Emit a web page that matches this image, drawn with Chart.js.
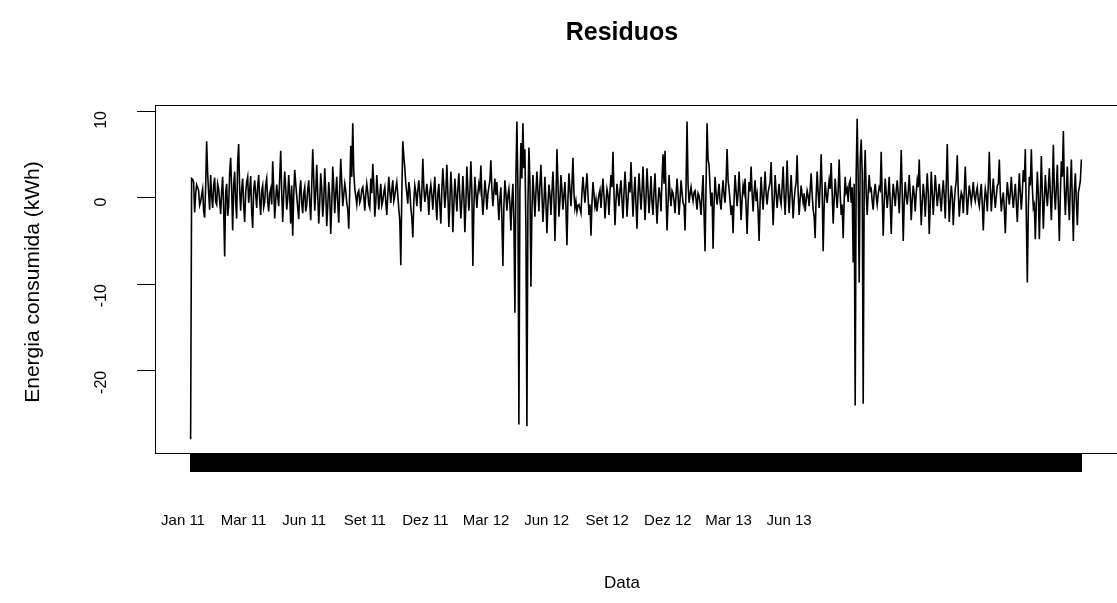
<!DOCTYPE html>
<html>
<head>
    <title>Residuos</title>
    <style>
        body, html {
            margin: 0;
            background-color: #ffffff;
        }
        #myChart {
            width: 1117px;
            height: 603px;
        }
    </style>
</head>
<body>
    <canvas id="myChart" width="1117" height="603"></canvas>
    <script src="https://cdn.jsdelivr.net/npm/chart.js"></script>
    <script>
        // daily residuals (kWh)
        const residuos = [
            -27.9, 2.2, 2.1, 1.8, -1.7, 0.4, 1.5, 1.2, 0.8, -0.9, -0.5, 0.3, 1.0, -1.5, -2.3, 1.2, 6.5, 2.8, 0.5, -1.4, 2.6, 0.2, -1.2, 1.4, 2.3, -0.5, -0.8, 1.6, 1.0, -0.4, -1.9, 0.8, 2.4, -1.3, -6.8, 0.6, 1.6, -2.1, -1.0, 2.8,
            4.6, 0.9, -3.8, 1.4, 3.0, -0.6, -2.4, 4.1, 6.2, 0.8, -1.5, 1.0, 2.2, -0.9, -2.8, 0.6, 1.8, 2.4, -0.6, 0.7, 2.5, -1.6, -3.5, 0.9, 2.0, 0.4, -1.2, 1.3, 2.6, -0.3, -2.0, 0.8, 1.4, -1.1, -0.5, 1.5, 2.2, -0.4, -1.6, 0.5,
            1.0, -0.8, 4.2, 1.1, -2.4, -0.3, 1.5, 0.2, -1.0, 2.3, 5.4, 0.6, -2.8, 0.4, 3.0, 1.2, -1.4, -0.2, 2.6, 0.3, -3.0, 1.4, -4.4, 0.2, 3.2, 1.6, 0.2, -1.2, -2.5, 0.8, 2.0, -0.7, -1.8, 0.5, 1.2, -1.6, -0.8, 0.9, 2.0, -0.6,
            -2.6, 1.4, 5.6, 2.2, -1.5, 0.6, 3.8, 0.4, -3.0, -0.5, 2.8, 1.0, -2.2, -0.4, 3.4, 0.7, -3.3, -1.0, 1.8, 0.2, -4.2, -0.8, 3.6, 1.3, -1.8, 0.5, 2.4, -0.6, -2.9, 1.1, 4.5, 1.8, -1.0, 0.3, 1.6, 0.8, -0.6, -1.4, -3.6, 0.9,
            6.0, 2.4, 8.6, 3.0, 1.0, 0.2, -0.8, 0.5, 0.8, -0.6, -0.2, 0.9, 1.2, 0.1, -1.5, 0.4, 1.6, 0.6, -0.8, -1.2, 2.2, 0.5, 3.9, 1.6, -2.2, -0.6, 2.6, 0.7, -1.4, 0.2, 1.6, -0.9, -0.4, 0.6, 1.2, -0.5, -2.0, 0.3, 2.4, 0.8,
            -0.6, 0.9, 2.0, -0.4, 0.2, 1.1, 1.8, 0.3, -1.3, -2.6, -7.8, 0.4, 6.5, 4.8, 3.4, 1.6, 0.5, -0.7, 1.8, 0.9, -1.2, -2.3, -4.6, -0.4, 1.4, 0.6, -1.0, 0.8, 2.0, 0.5, -1.6, 0.7, 4.5, 1.2, -0.5, 0.4, 1.6, 0.2, -2.0, 0.6,
            1.5, 0.3, -1.4, 0.8, 2.4, -0.5, -2.6, 0.4, 1.6, -0.8, -3.0, 0.9, 3.4, 1.2, -1.2, 0.5, 3.8, 0.6, -3.4, -0.6, 3.0, 0.8, -4.0, -0.9, 2.2, 0.4, -1.6, 0.9, 2.8, 0.1, -2.4, -0.4, 2.5, 0.2, -4.0, -0.8, 3.6, 1.0, -1.5, 0.6,
            4.2, 0.8, -7.9, -1.2, 2.4, 0.6, -1.2, 0.5, 1.6, 0.9, 3.7, 0.2, -2.0, -0.3, 2.0, 0.7, -1.4, 0.4, 1.2, 2.0, 4.3, 1.0, -1.0, 0.6, 2.2, 0.3, 1.8, -0.4, -2.6, -0.2, 1.2, -2.4, -7.9, -1.0, 2.0, 0.5, -1.5, 0.2, 1.0, -0.8,
            -3.8, -0.4, 1.6, -2.8, -13.3, 2.4, 8.8, 1.2, -26.2, 0.8, 6.3, 2.2, 8.6, 3.4, 5.6, -3.6, -26.4, -1.0, 5.8, 2.0, -10.3, -1.6, 2.6, 0.4, -2.2, 0.6, 3.0, 0.8, -1.6, 1.4, 3.8, 0.5, -2.8, -0.6, 2.4, -0.5, -4.1, -0.9, 1.5, 0.4,
            -2.0, 0.6, 3.0, 0.2, -5.0, -0.6, 5.6, 1.8, -2.2, -0.4, 2.6, 0.9, -1.4, 0.3, 1.8, -1.2, -5.5, -0.2, 2.8, 1.0, -1.0, 1.4, 4.6, 0.6, -1.2, -0.4, -1.6, -0.9, -0.8, -1.3, -1.8, 0.6, 2.4, 0.8, -0.6, 1.2, 2.8, 0.4, -2.0, -0.8,
            -4.4, -0.6, 1.8, 0.4, -1.0, -0.2, -1.6, -0.5, 0.4, 0.9, -1.2, 0.6, 2.2, 0.2, -2.4, -0.6, 1.0, 0.3, -2.0, 0.7, 2.6, 1.2, 5.3, 0.6, -3.2, -0.4, 1.6, 0.4, -1.0, 0.9, 2.0, -0.3, -2.4, 0.5, 3.0, 0.9, -2.2, -0.2, 1.8, 0.6,
            4.1, 0.8, -2.2, 0.4, 2.4, -0.8, -3.6, 0.2, 2.8, 0.6, -1.4, 0.7, 3.6, 0.4, -2.6, 0.1, 3.4, 0.9, -1.8, 0.2, 2.5, -0.5, -2.0, 0.8, 2.8, -0.4, -3.0, -0.6, 1.2, 0.3, -1.6, 2.2, 5.0, 1.6, 5.4, 0.4, -3.8, -0.8, 2.6, 0.4,
            -1.0, 0.8, 0.5, -0.4, -1.8, 0.3, 2.2, 0.4, -2.0, -0.3, 2.0, 0.6, -0.6, -0.9, -3.8, 1.2, 8.8, 1.6, -0.6, 0.4, 1.2, 0.3, -0.4, 0.6, 0.8, -0.2, -1.4, 0.5, 0.2, -0.6, -2.0, 0.4, 2.6, -1.8, -6.2, 1.4, 8.6, 4.4, 3.8, 1.2,
            -1.0, 0.6, -5.9, -0.8, 2.4, 0.5, -0.8, 0.4, 1.6, -0.5, -1.4, 0.6, 2.0, 0.3, -0.6, 1.8, 5.6, 2.0, 1.0, -0.4, -2.0, -0.9, -4.1, -0.2, 2.6, 0.8, -1.0, 0.5, 3.0, 0.4, -2.6, -0.2, 1.4, 0.6, 2.2, -1.0, -4.2, -0.6, 1.8, 0.7,
            3.6, 0.5, -1.6, 0.6, 2.0, -0.4, 0.4, -1.6, -5.0, -0.6, 2.4, 0.2, -1.4, 0.8, 3.0, 0.4, -0.8, 0.6, 1.2, 1.8, 4.1, 0.2, -3.2, -0.4, 2.6, 0.6, -1.2, 0.4, 1.6, -0.1, -0.8, 1.2, 3.6, 0.3, -2.0, 0.9, 4.3, 0.6, -1.8, 0.4,
            2.6, 0.2, -2.4, -0.3, 1.0, 1.8, 4.9, 0.6, -2.0, -0.2, 1.4, 0.3, -0.6, 0.5, -1.6, -0.3, 0.8, 0.2, -1.0, 0.9, 2.8, 0.4, -1.4, -2.2, -4.7, 0.2, 3.0, 0.6, -1.2, 1.4, 5.0, 0.8, -6.2, -1.0, 1.8, 0.4, -0.6, 0.8, 2.0, 1.0,
            4.0, 0.6, -3.0, -0.2, 2.2, 0.4, -1.2, 0.8, 4.4, 0.5, -2.0, -0.8, -4.7, -0.4, 2.4, 0.6, 1.0, -0.5, 1.6, 2.0, -0.6, 1.2, -7.5, 1.6, -24.0, 2.8, 9.1, 1.8, -9.8, 4.2, 6.7, 3.0, -23.8, 1.5, 5.5, 0.4, -2.0, 0.6, 2.6, 0.8,
            1.0, -0.4, -1.4, 0.6, 1.6, 0.2, -0.8, 0.4, 1.2, 0.9, 5.3, 0.2, -4.4, -0.6, 2.2, 0.5, -1.2, 0.4, 2.4, -0.6, -4.2, -0.4, 1.6, 0.3, -1.0, 0.8, 2.0, 0.4, -1.8, 1.2, 5.5, 0.6, -5.0, -0.5, 1.8, 0.2, -0.8, 0.6, 2.6, 0.4,
            -2.6, -0.2, 1.4, 0.3, -1.6, 0.5, 2.0, 1.2, 4.4, 0.4, -3.2, -0.5, 1.6, 0.2, -2.2, 0.4, 2.8, 0.5, -4.2, -0.8, 3.0, 0.6, -2.0, 0.2, 2.6, 0.9, -1.0, 0.3, 1.6, -0.2, -1.6, 0.5, 2.0, 0.2, -2.4, 1.6, 6.2, 0.8, -2.8, -0.4,
            1.4, 0.2, -3.2, -0.6, 1.0, 2.0, 4.9, 0.6, -2.2, -0.4, 0.6, 0.2, -1.8, 0.8, 3.6, 0.4, -2.0, -0.2, 1.4, 0.5, -0.6, 0.4, 1.8, 0.2, -0.4, 0.6, 1.2, -0.3, -1.0, 0.4, 1.6, -0.8, -3.8, -0.6, 1.0, 0.2, -1.6, 1.4, 5.3, 1.2,
            -1.6, 0.4, 2.2, 0.3, -1.2, 0.2, 1.4, 1.6, 4.4, 0.6, -1.6, -0.3, 0.6, -1.2, -4.1, -0.5, 1.8, 0.4, -0.8, 0.6, 2.4, 0.2, -1.2, 0.3, 1.6, -0.6, -2.8, 0.2, 2.8, 0.5, -1.4, 0.6, 3.2, 1.8, 5.6, -2.4, -9.8, -1.2, 2.4, 1.4,
            5.6, 1.2, -1.2, -0.8, -4.8, -0.6, 3.0, 0.4, -4.8, 0.2, 4.8, 0.6, -3.6, -0.4, 2.6, 0.6, -1.0, 1.0, 3.4, 0.4, -2.6, 1.0, 6.1, 0.8, -1.4, 1.2, 3.8, -0.6, -5.0, 0.4, 4.2, 2.4, 7.7, 1.2, -2.0, 1.0, 3.6, -0.4, -2.6, 1.4,
            4.4, -0.6, -5.0, 0.8, 2.8, -0.5, -3.2, 0.6, 1.2, 2.0, 4.4
        ];
        const rotulosMeses = ['Jan 11', 'Mar 11', 'Jun 11', 'Set 11', 'Dez 11', 'Mar 12', 'Jun 12', 'Set 12', 'Dez 12', 'Mar 13', 'Jun 13'];
        const ticksY = [-20, -10, 0, 10];

        const n = residuos.length;
        const folga = 0.04 * (n - 1);
        const pontos = residuos.map((v, i) => ({ x: i, y: v }));

        // box and free text drawn like R's plot()
        const textosR = {
            id: 'textosR',
            afterDraw(chart) {
                const ctx = chart.ctx;
                const a = chart.chartArea;
                ctx.save();
                ctx.strokeStyle = '#000';
                ctx.lineWidth = 1;
                ctx.strokeRect(a.left + 0.5, a.top + 0.5, a.right - a.left, a.bottom - a.top);
                ctx.fillStyle = '#000';
                ctx.textAlign = 'center';
                ctx.textBaseline = 'middle';
                ctx.font = 'bold 25px "Liberation Sans", Arial, sans-serif';
                ctx.fillText('Residuos', 622, 33);
                ctx.font = '17px "Liberation Sans", Arial, sans-serif';
                ctx.fillText('Data', 622, 583);
                ctx.translate(33, 282);
                ctx.rotate(-Math.PI / 2);
                ctx.font = '21px "Liberation Sans", Arial, sans-serif';
                ctx.fillText('Energia consumida (kWh)', 0, 0);
                ctx.restore();
            }
        };

        var ctx = document.getElementById('myChart').getContext('2d');
        var myChart = new Chart(ctx, {
            type: 'line',
            data: {
                datasets: [{
                    label: 'Residuos',
                    data: pontos,
                    borderColor: '#000000',
                    borderWidth: 1.6,
                    pointRadius: 0,
                    tension: 0,
                    xAxisID: 'x',
                    yAxisID: 'y'
                }]
            },
            options: {
                responsive: false,
                animation: false,
                layout: { padding: { top: 105, right: 0, bottom: 0, left: 0 } },
                plugins: {
                    legend: { display: false },
                    tooltip: { enabled: false }
                },
                scales: {
                    x: {
                        type: 'linear',
                        position: 'bottom',
                        weight: 0,
                        min: -folga,
                        max: n - 1 + folga,
                        afterBuildTicks: axis => {
                            axis.ticks = residuos.map((v, i) => ({ value: i }));
                        },
                        afterFit: axis => { axis.height = 19; },
                        ticks: { display: false, autoSkip: false },
                        border: { display: false },
                        grid: {
                            drawOnChartArea: false,
                            drawTicks: true,
                            tickLength: 19,
                            color: '#000000',
                            lineWidth: 2
                        }
                    },
                    meses: {
                        type: 'linear',
                        position: 'bottom',
                        weight: 1,
                        min: -0.462,
                        max: 15.41,
                        afterBuildTicks: axis => {
                            axis.ticks = rotulosMeses.map((m, i) => ({ value: i }));
                        },
                        afterFit: axis => { axis.height = 131; },
                        ticks: {
                            autoSkip: false,
                            maxRotation: 0,
                            minRotation: 0,
                            padding: 40,
                            color: '#000000',
                            font: { family: '"Liberation Sans", Arial, sans-serif', size: 15 },
                            callback: v => rotulosMeses[v]
                        },
                        border: { display: false },
                        grid: { display: false, drawTicks: false }
                    },
                    y: {
                        type: 'linear',
                        position: 'left',
                        min: -29.5,
                        max: 10.7,
                        afterBuildTicks: axis => {
                            axis.ticks = ticksY.map(v => ({ value: v }));
                        },
                        afterFit: axis => { axis.width = 155; },
                        ticks: {
                            minRotation: 90,
                            maxRotation: 90,
                            padding: 35,
                            color: '#000000',
                            font: { family: '"Liberation Sans", Arial, sans-serif', size: 16 }
                        },
                        border: { display: false },
                        grid: {
                            drawOnChartArea: false,
                            tickLength: 18,
                            color: '#000000',
                            lineWidth: 1
                        }
                    }
                }
            },
            plugins: [textosR]
        });
    </script>
</body>
</html>
